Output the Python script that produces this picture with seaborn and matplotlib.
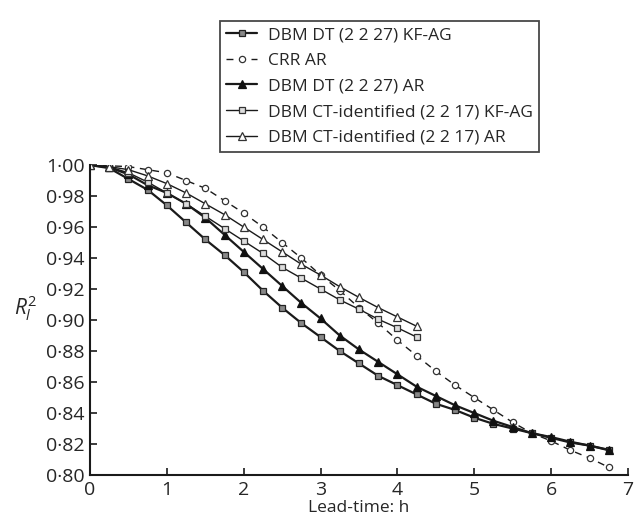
import numpy as np
import pandas as pd
import matplotlib
matplotlib.use("Agg")
import matplotlib.pyplot as plt
from matplotlib.ticker import FuncFormatter
import seaborn as sns

# lead time in hours (every 15 min)
lead_time = [0.0, 0.25, 0.5, 0.75, 1.0, 1.25, 1.5, 1.75, 2.0, 2.25, 2.5, 2.75, 3.0, 3.25,
             3.5, 3.75, 4.0, 4.25, 4.5, 4.75, 5.0, 5.25, 5.5, 5.75, 6.0, 6.25, 6.5, 6.75]

dt_kfag = [1.000, 0.998, 0.991, 0.984, 0.974, 0.963, 0.952, 0.942, 0.931, 0.919,
           0.908, 0.898, 0.889, 0.880, 0.872, 0.864, 0.858, 0.852, 0.846, 0.842,
           0.837, 0.833, 0.830, 0.827, 0.824, 0.821, 0.819, 0.816]
crr_ar = [1.000, 0.9995, 0.999, 0.997, 0.995, 0.990, 0.985, 0.977, 0.969, 0.960,
          0.950, 0.940, 0.929, 0.919, 0.908, 0.898, 0.887, 0.877, 0.867, 0.858,
          0.850, 0.842, 0.834, 0.827, 0.822, 0.816, 0.811, 0.805]
dt_ar = [1.000, 0.9985, 0.994, 0.987, 0.982, 0.975, 0.966, 0.955, 0.944, 0.933,
         0.922, 0.911, 0.901, 0.890, 0.881, 0.873, 0.865, 0.857, 0.851, 0.845,
         0.840, 0.835, 0.831, 0.827, 0.8245, 0.8215, 0.819, 0.8163]
ct_kfag = [1.000, 0.9988, 0.995, 0.989, 0.982, 0.975, 0.967, 0.959, 0.951, 0.943,
           0.934, 0.927, 0.920, 0.913, 0.907, 0.9005, 0.895, 0.889]
ct_ar = [1.000, 0.999, 0.997, 0.993, 0.988, 0.982, 0.975, 0.968, 0.960, 0.952,
         0.944, 0.936, 0.929, 0.9215, 0.9146, 0.908, 0.902, 0.896]

labels = ["DBM DT (2 2 27) KF-AG", "CRR AR", "DBM DT (2 2 27) AR",
          "DBM CT-identified (2 2 17) KF-AG", "DBM CT-identified (2 2 17) AR"]

sns.set_style("ticks")
plt.rcParams['font.family'] = ['Open Sans', 'DejaVu Sans']
plt.rcParams['mathtext.fontset'] = 'custom'
plt.rcParams['mathtext.it'] = 'Open Sans:italic'
plt.rcParams['mathtext.rm'] = 'Open Sans'

fig = plt.figure(figsize=(6.34, 5.29), dpi=100)
ax = fig.add_axes([0.142, 0.102, 0.8485, 0.586])

styles = [
    dict(y=dt_kfag, marker='s', ms=4, mfc='#888888', mec='#222222', lw=1.6, ls='-'),
    dict(y=crr_ar, marker='o', ms=4.5, mfc='white', mec='#333333', lw=1.0, ls=(0, (5, 4))),
    dict(y=dt_ar, marker='^', ms=5.5, mfc='#111111', mec='#111111', lw=1.6, ls='-'),
    dict(y=ct_kfag, marker='s', ms=4, mfc='#dddddd', mec='#333333', lw=1.0, ls='-'),
    dict(y=ct_ar, marker='^', ms=5.5, mfc='white', mec='#333333', lw=1.0, ls='-'),
]

for lab, st in zip(labels, styles):
    y = st.pop('y')
    sns.lineplot(x=lead_time[:len(y)], y=y, ax=ax, label=lab, color='#1a1a1a',
                 markeredgewidth=0.9, **st)

ax.set_xlim(0, 7)
ax.set_ylim(0.80, 1.00)
ax.set_xticks(range(0, 8))
ax.set_yticks(np.arange(0.80, 1.001, 0.02))
ax.yaxis.set_major_formatter(FuncFormatter(lambda v, p: f"{v:.2f}".replace('.', '\u00b7')))
ax.tick_params(direction='in', length=5, width=1.2, labelsize=14, pad=4, color='#1a1a1a')
for s in ['top', 'right']:
    ax.spines[s].set_visible(False)
for s in ['left', 'bottom']:
    ax.spines[s].set_linewidth(1.5)
    ax.spines[s].set_color('#1a1a1a')

ax.set_xlabel("Lead-time: h", fontsize=12.5, labelpad=1)
ax.set_ylabel("$R_l^2$", fontsize=15, rotation=0, labelpad=12)
ax.yaxis.set_label_coords(-0.12, 0.49)

leg = ax.legend(loc='lower center', bbox_to_anchor=(0.538, 1.042), borderaxespad=0,
                fontsize=12.5, frameon=True, fancybox=False, handlelength=1.8,
                labelspacing=0.55, borderpad=0.35, handletextpad=0.6)
leg.get_frame().set_edgecolor('#1a1a1a')
leg.get_frame().set_linewidth(1.3)

fig.savefig("out.png", dpi=100)
